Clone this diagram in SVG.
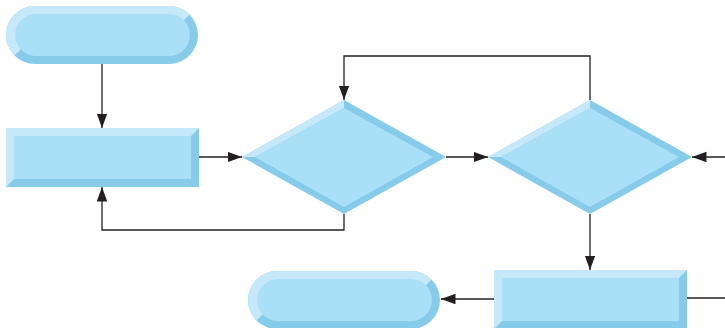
<svg xmlns="http://www.w3.org/2000/svg" width="725" height="328" viewBox="0 0 725 328">
<style>
.dark{fill:#86cbe9}
.light{fill:#c6e9f9}
.main{fill:#aadff8}
.conn{fill:none;stroke:#231f20;stroke-width:1.3}
</style>
<defs>
<marker id="ah" markerUnits="userSpaceOnUse" markerWidth="16" markerHeight="11" refX="14.5" refY="5.25" orient="auto">
<path d="M0,0 L14.5,5.25 L0,10.5 Z" fill="#231f20"/>
</marker>
<clipPath id="c1"><polygon points="-5,-5 209,-5 169,35 35,35 -5,75"/></clipPath>
<clipPath id="c2"><polygon points="237,260 451,260 411,300 277,300 237,340"/></clipPath>
</defs>
<rect width="725" height="328" fill="#ffffff"/>
<g id="connectors">
<line class="conn" x1="102" y1="64" x2="102" y2="128" marker-end="url(#ah)"/>
<line class="conn" x1="199" y1="157" x2="242" y2="157" marker-end="url(#ah)"/>
<polyline class="conn" points="344,214 344,230 102,230 102,187" marker-end="url(#ah)"/>
<line class="conn" x1="446" y1="157" x2="488" y2="157" marker-end="url(#ah)"/>
<polyline class="conn" points="590,100 590,56 344,56 344,100" marker-end="url(#ah)"/>
<line class="conn" x1="725" y1="157" x2="692" y2="157" marker-end="url(#ah)"/>
<line class="conn" x1="590" y1="214" x2="590" y2="270" marker-end="url(#ah)"/>
<line class="conn" x1="494" y1="299" x2="441" y2="299" marker-end="url(#ah)"/>
<line class="conn" x1="687" y1="298" x2="725" y2="298"/>
</g>
<g id="start">
<rect class="dark" x="6" y="6" width="192" height="58" rx="29"/>
<rect class="light" x="6" y="6" width="192" height="58" rx="29" clip-path="url(#c1)"/>
<rect class="main" x="15" y="14" width="175" height="42" rx="21"/>
</g>
<g id="process1">
<rect class="dark" x="6" y="128" width="193" height="59"/>
<polygon class="light" points="6,128 199,128 191,136 14,179 6,187"/>
<rect class="main" x="14" y="136" width="177" height="43"/>
</g>
<g id="decision1">
<polygon class="dark" points="242,157 344,100 446,157 344,214"/>
<polygon class="light" points="242,157 344,100 344,108 255,157"/>
<polygon class="main" points="255,157 344,108 433,157 344,207"/>
</g>
<g id="decision2">
<polygon class="dark" points="488,157 590,100 692,157 590,214"/>
<polygon class="light" points="488,157 590,100 590,108 501,157"/>
<polygon class="main" points="501,157 590,108 679,157 590,207"/>
</g>
<g id="process2">
<rect class="dark" x="494" y="270" width="193" height="59"/>
<polygon class="light" points="494,270 687,270 679,278 502,321 494,329"/>
<rect class="main" x="502" y="278" width="177" height="43"/>
</g>
<g id="end">
<rect class="dark" x="248" y="271" width="192" height="58" rx="29"/>
<rect class="light" x="248" y="271" width="192" height="58" rx="29" clip-path="url(#c2)"/>
<rect class="main" x="257" y="279" width="175" height="42" rx="21"/>
</g>
</svg>
